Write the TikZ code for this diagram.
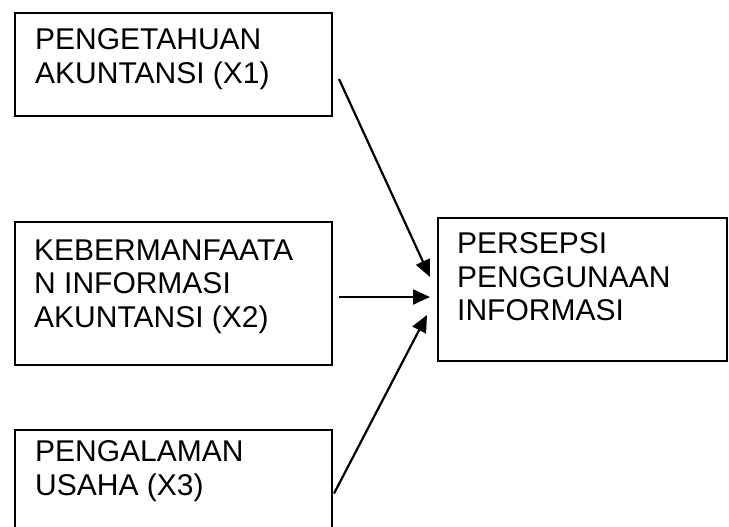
\documentclass[tikz,border=0pt]{standalone}
\usepackage{fontspec}
\setmainfont{Liberation Sans}
\usepackage{tikz}
\usetikzlibrary{positioning,arrows.meta}

\tikzset{
    box/.style={draw, line width=2pt, inner sep=0pt, anchor=north west, minimum width=#1},
    boxtext/.style={inner sep=0pt, align=left, font=\fontsize{30}{33.5}\selectfont},
    link/.style={line width=2.2pt, -{Triangle[length=17pt,width=15pt]}}
}

\begin{document}
\begin{tikzpicture}[x=1pt, y=-1pt]
    \useasboundingbox (0,0) rectangle (729,527);
    \clip (0,0) rectangle (729,527);
    % variabel bebas
    \node[box=317pt, minimum height=103pt] (x1) at (14,12) {};
    \node[box=317pt, minimum height=143pt] (x2) at (14,221) {};
    \node[box=317pt, minimum height=110pt] (x3) at (14,429) {};
    % variabel terikat
    \node[box=289pt, minimum height=143pt] (y) at (437,217) {};
    \node[boxtext, below right=16.5pt and 21pt of x1.north west] (x1txt) {PENGETAHUAN\\AKUNTANSI (X1)};
    \node[boxtext, below right=18.5pt and 20pt of x2.north west] (x2txt) {KEBERMANFAATA\\N INFORMASI\\AKUNTANSI (X2)};
    \node[boxtext, below right=11.5pt and 21pt of x3.north west] (x3txt) {PENGALAMAN\\USAHA (X3)};
    \node[boxtext, below right=15.5pt and 20pt of y.north west] (ytxt) {PERSEPSI\\PENGGUNAAN\\INFORMASI};
    % panah
    \draw[link] ([shift={(6pt,-14.5pt)}]x1.east) -- ([shift={(-7pt,12.5pt)}]y.west);
    \draw[link] ([shift={(6pt,-3.5pt)}]x2.east) -- ([shift={(-7pt,-7.5pt)}]y.west);
    \draw[link] ([shift={(1pt,-8.5pt)}]x3.east) -- ([shift={(-10pt,-25.5pt)}]y.west);
\end{tikzpicture}
\end{document}
